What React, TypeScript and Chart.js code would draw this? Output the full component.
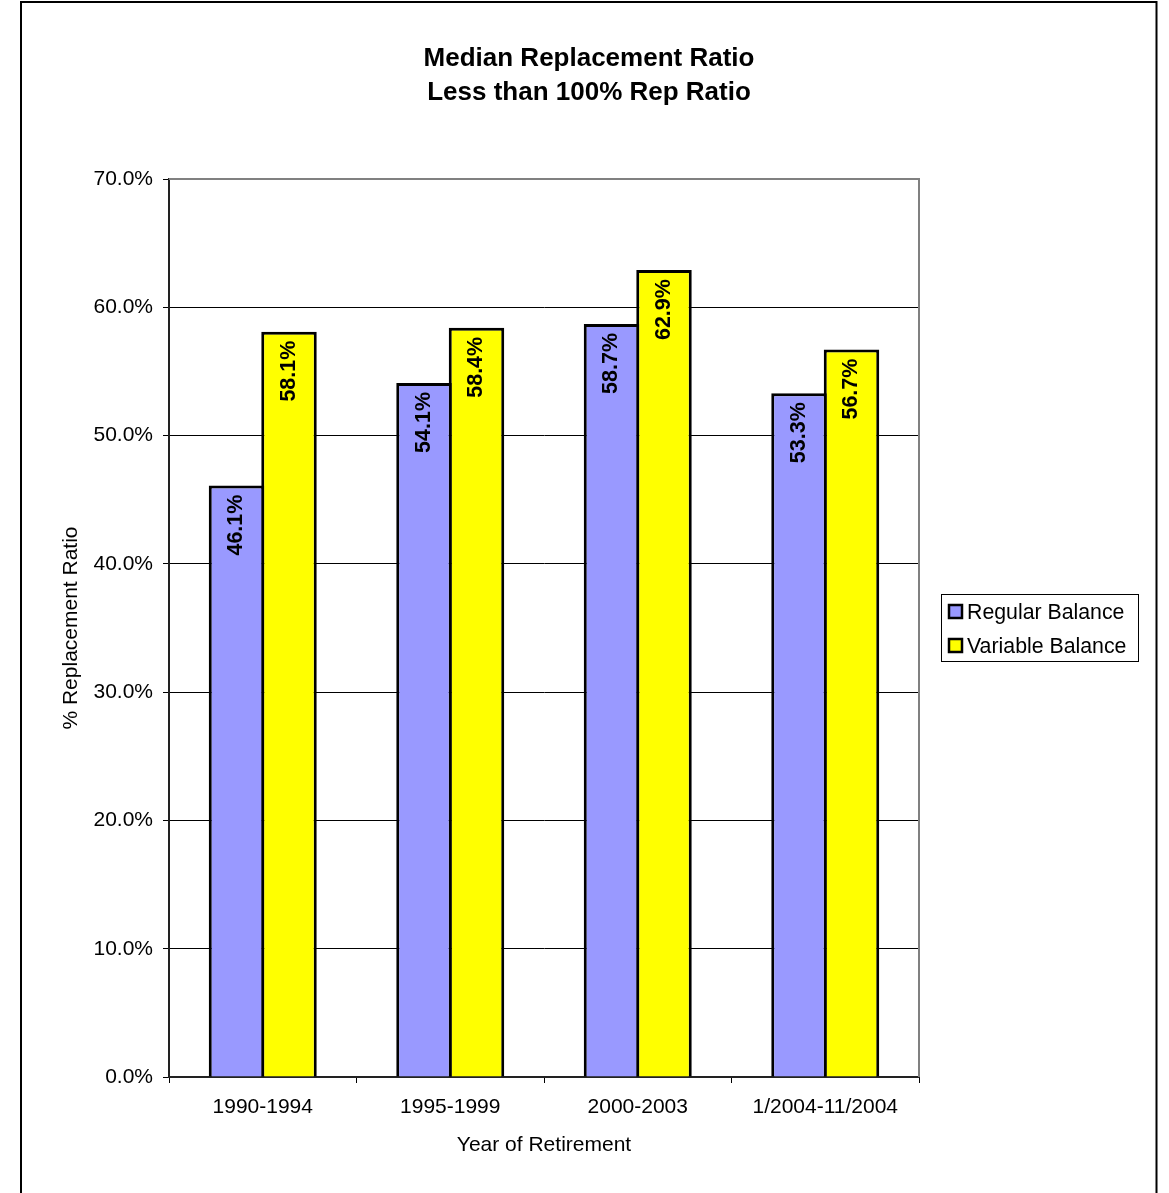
import React, { useEffect, useRef } from "react";
import { Chart, registerables } from "chart.js";

Chart.register(...registerables);

const TITLE_LINES = ["Median Replacement Ratio", "Less than 100% Rep Ratio"];
const CATEGORIES = ["1990-1994", "1995-1999", "2000-2003", "1/2004-11/2004"];
const REGULAR_BALANCE = [46.1, 54.1, 58.7, 53.3];
const VARIABLE_BALANCE = [58.1, 58.4, 62.9, 56.7];
const SERIES_LABELS = ["Regular Balance", "Variable Balance"];
const SERIES_COLORS = ["#9999FF", "#FFFF00"];
const Y_TICKS_MAX = 70;
const Y_TICKS_STEP = 10;
const X_TITLE = "Year of Retirement";
const Y_TITLE = "% Replacement Ratio";

const FONT = "'Liberation Sans', Arial, sans-serif";

const decorPlugin = {
  id: "decor",
  beforeDraw(chart: any) {
    const ctx = chart.ctx;
    ctx.save();
    ctx.fillStyle = "#fff";
    ctx.fillRect(0, 0, chart.width, chart.height);
    ctx.restore();
  },
  beforeDatasetsDraw(chart: any) {
    const { ctx, chartArea } = chart;
    ctx.save();
    ctx.strokeStyle = "#808080";
    ctx.lineWidth = 2;
    ctx.beginPath();
    ctx.moveTo(chartArea.left, chartArea.top);
    ctx.lineTo(chartArea.right, chartArea.top);
    ctx.lineTo(chartArea.right, chartArea.bottom);
    ctx.stroke();
    ctx.restore();
  },
  afterDatasetsDraw(chart: any) {
    const ctx = chart.ctx;
    ctx.save();
    ctx.font = `bold 21.5px ${FONT}`;
    ctx.fillStyle = "#000";
    ctx.textAlign = "right";
    ctx.textBaseline = "middle";
    chart.data.datasets.forEach((ds: any, di: number) => {
      const meta = chart.getDatasetMeta(di);
      meta.data.forEach((bar: any, i: number) => {
        const v = ds.data[i];
        ctx.save();
        ctx.translate(bar.x, bar.y + 9);
        ctx.rotate(-Math.PI / 2);
        ctx.fillText(v.toFixed(1) + "%", 0, 0);
        ctx.restore();
      });
    });
    ctx.restore();
  },
  afterDraw(chart: any) {
    const ctx = chart.ctx;
    ctx.save();
    // outer frame
    ctx.strokeStyle = "#000";
    ctx.lineWidth = 2;
    ctx.strokeRect(21, 2, 1135.5, 1300);
    // title
    ctx.fillStyle = "#000";
    ctx.font = `bold 26px ${FONT}`;
    ctx.textAlign = "center";
    ctx.textBaseline = "middle";
    TITLE_LINES.forEach((t, i) => ctx.fillText(t, 589, 59 + i * 34));
    // legend
    const lx = 941, ly = 594, lw = 197, lh = 67;
    ctx.lineWidth = 1;
    ctx.strokeStyle = "#000";
    ctx.strokeRect(lx + 0.5, ly + 0.5, lw, lh);
    ctx.font = `21.3px ${FONT}`;
    ctx.textAlign = "left";
    chart.data.datasets.forEach((ds: any, i: number) => {
      const cy = 612 + i * 34;
      ctx.fillStyle = ds.backgroundColor;
      ctx.fillRect(949, cy - 7, 13, 13);
      ctx.lineWidth = 2.5;
      ctx.strokeRect(949, cy - 7, 13, 13);
      ctx.fillStyle = "#000";
      ctx.fillText(ds.label, 967, cy + 1);
    });
    ctx.restore();
  },
};

export default function App() {
  const ref = useRef<HTMLCanvasElement>(null);
  useEffect(() => {
    if (!ref.current) return;
    const chart = new Chart(ref.current, {
      type: "bar",
      data: {
        labels: CATEGORIES,
        datasets: [
          {
            label: SERIES_LABELS[0],
            data: REGULAR_BALANCE,
            backgroundColor: SERIES_COLORS[0],
            borderColor: "#000",
            borderWidth: 3,
          },
          {
            label: SERIES_LABELS[1],
            data: VARIABLE_BALANCE,
            backgroundColor: SERIES_COLORS[1],
            borderColor: "#000",
            borderWidth: 3,
          },
        ],
      },
      options: {
        responsive: false,
        animation: false,
        devicePixelRatio: 1,
        layout: { padding: { left: 20, right: 250, top: 179, bottom: 0 } },
        datasets: { bar: { categoryPercentage: 0.56, barPercentage: 1.057 } },
        plugins: {
          legend: { display: false },
          title: { display: false },
          tooltip: { enabled: false },
        },
        scales: {
          x: {
            afterFit: (s: any) => {
              s.height = 116;
            },
            grid: {
              display: true,
              drawOnChartArea: false,
              drawTicks: true,
              tickLength: 6,
              offset: true,
              color: "#000",
              lineWidth: 1,
            },
            border: { display: true, color: "#222", width: 2 },
            ticks: {
              color: "#000",
              font: { family: FONT, size: 21 },
              padding: 12,
              maxRotation: 0,
            },
            title: {
              display: true,
              text: X_TITLE,
              color: "#000",
              font: { family: FONT, size: 21 },
              padding: { top: 0, bottom: 35 },
            },
          },
          y: {
            min: 0,
            max: Y_TICKS_MAX,
            afterFit: (s: any) => {
              s.width = 149;
            },
            grid: {
              color: "#000",
              lineWidth: 1,
              tickLength: 6,
            },
            border: { display: true, color: "#222", width: 2 },
            ticks: {
              stepSize: Y_TICKS_STEP,
              color: "#000",
              font: { family: FONT, size: 21 },
              padding: 10,
              callback: (v: any) => Number(v).toFixed(1) + "%",
            },
            title: {
              display: true,
              text: Y_TITLE,
              color: "#000",
              font: { family: FONT, size: 21 },
              padding: { top: 39, bottom: 0 },
            },
          },
        },
      },
      plugins: [decorPlugin],
    });
    return () => chart.destroy();
  }, []);
  return (
    <div style={{ position: "absolute", left: 0, top: 0, width: 1169, height: 1193 }}>
      <canvas ref={ref} width={1169} height={1193} style={{ display: "block" }} />
    </div>
  );
}
